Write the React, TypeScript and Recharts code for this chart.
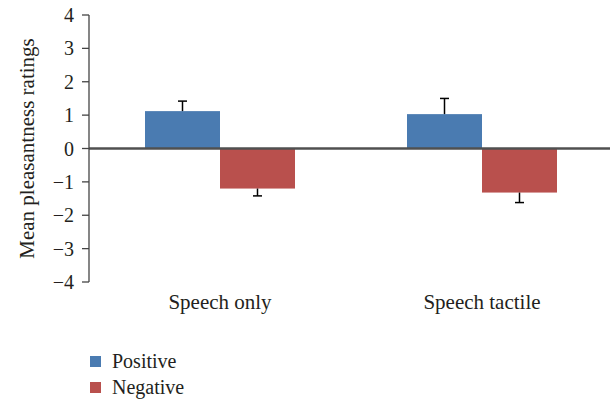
import React from 'react';
import { BarChart, Bar, XAxis, YAxis, ReferenceLine, Legend } from 'recharts';

const categories = ['Speech only', 'Speech tactile'];
const positiveValues = [1.12, 1.03];
const positiveErrors = [0.3, 0.47];
const negativeValues = [-1.2, -1.32];
const negativeErrors = [0.22, 0.3];
const yTicks = [-4, -3, -2, -1, 0, 1, 2, 3, 4];

const seriesNames = ['Positive', 'Negative'];
const colors = ['#4A7BB1', '#B9504D'];

const data = categories.map((c, i) => ({
  category: c,
  positive: positiveValues[i],
  positiveErr: positiveErrors[i],
  negative: negativeValues[i],
  negativeErr: negativeErrors[i],
}));

const FONT = "'Liberation Serif', 'Times New Roman', serif";
const TEXT = '#231f20';

const makeShape = (valueKey: string, errKey: string) => (props: any) => {
  const { x, y, width, height, fill, payload } = props;
  const v = payload[valueKey];
  const err = payload[errKey];
  const top = Math.min(y, y + height);
  const h = Math.abs(height);
  const ppu = Math.abs(v) > 0 ? h / Math.abs(v) : 0;
  const cx = x + width / 2;
  const start = v >= 0 ? top : top + h;
  const end = v >= 0 ? top - err * ppu : top + h + err * ppu;
  return (
    <g>
      <rect x={x} y={top} width={width} height={h} fill={fill} />
      <line x1={cx} x2={cx} y1={start} y2={end} stroke="#000" strokeWidth={1.5} />
      <line x1={cx - 4.5} x2={cx + 4.5} y1={end} y2={end} stroke="#000" strokeWidth={1.5} />
    </g>
  );
};

const fmt = (v: number) => (v < 0 ? '\u2212' + Math.abs(v) : String(v));

const LegendContent = (props: any) => {
  const payload = [...(props.payload || [])].sort(
    (a: any, b: any) => seriesNames.indexOf(a.value) - seriesNames.indexOf(b.value)
  );
  return (
    <div style={{ paddingLeft: 90, fontFamily: FONT, fontSize: 20, color: TEXT }}>
      {payload.map((entry: any) => (
        <div key={entry.value} style={{ display: 'flex', alignItems: 'center', height: 26 }}>
          <span style={{ display: 'inline-block', width: 11, height: 11, background: entry.color, marginRight: 11 }} />
          <span style={{ lineHeight: '26px' }}>{entry.value}</span>
        </div>
      ))}
    </div>
  );
};

export default function App() {
  return (
    <div style={{ position: 'absolute', left: 0, top: 0, width: 610, height: 402, background: '#fff', overflow: 'hidden' }}>
      <BarChart
        width={610}
        height={402}
        data={data}
        margin={{ top: 15, right: -3, left: 0, bottom: 2 }}
        barSize={75}
        barGap={0}
      >
        <XAxis
          dataKey="category"
          axisLine={false}
          tickLine={false}
          tickMargin={6}
          height={66}
          tick={{ fontSize: 21, fontFamily: FONT, fill: TEXT }}
        />
        <YAxis
          domain={[-4, 4]}
          ticks={yTicks}
          width={89}
          tickSize={7}
          tickMargin={8}
          tickFormatter={fmt}
          interval={0}
          axisLine={{ stroke: '#444', strokeWidth: 1.3 }}
          tickLine={{ stroke: '#444', strokeWidth: 1.3 }}
          tick={{ fontSize: 20, fontFamily: FONT, fill: TEXT }}
          label={{
            value: 'Mean pleasantness ratings',
            angle: -90,
            position: 'center',
            dx: -18,
            fontSize: 21,
            fontFamily: FONT,
            fill: TEXT,
          }}
        />
        <ReferenceLine y={0} stroke="#505050" strokeWidth={2.5} />
        <Bar
          dataKey="positive"
          name={seriesNames[0]}
          fill={colors[0]}
          isAnimationActive={false}
          shape={makeShape('positive', 'positiveErr')}
        />
        <Bar
          dataKey="negative"
          name={seriesNames[1]}
          fill={colors[1]}
          isAnimationActive={false}
          shape={makeShape('negative', 'negativeErr')}
        />
        <Legend
          verticalAlign="bottom"
          align="left"
          content={<LegendContent />}
          wrapperStyle={{ left: 0, bottom: 2, width: 300, height: 52 }}
        />
      </BarChart>
    </div>
  );
}
